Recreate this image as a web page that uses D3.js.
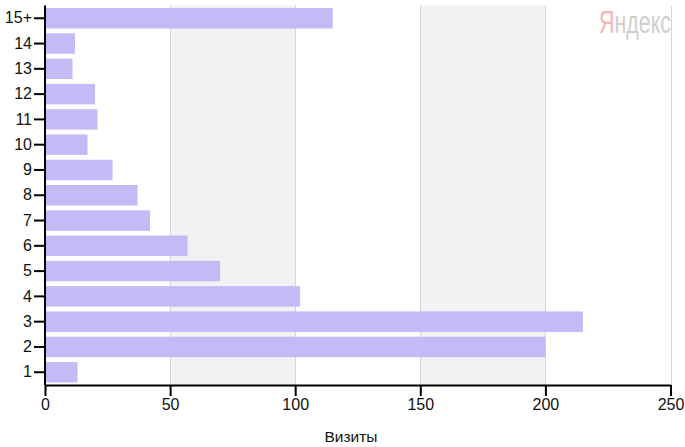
<!DOCTYPE html>
<html><head><meta charset="utf-8">
<script src="https://cdn.jsdelivr.net/npm/d3@7"></script>
<style>
html,body{margin:0;padding:0;background:#fff;}
svg{display:block;font-family:"Liberation Sans",Arial,sans-serif;}
</style></head>
<body>
<svg id="chart" width="685" height="447"></svg>
<script>
const categories = ["1","2","3","4","5","6","7","8","9","10","11","12","13","14","15+"];
const visits = [13,200,215,102,70,57,42,37,27,17,21,20,11,12,115];
const xTicks = [0,50,100,150,200,250];
const shadedBands = [[50,100],[150,200]];
const axisTitle = "Визиты";
const watermark = ["Я","ндекс"];

(function(){
const svg = d3.select("#chart");
const pLeft = 45, pRight = 670.5, pTop = 5.5, pBottom = 385;

const x = d3.scaleLinear().domain([0,250]).range([pLeft,pRight]);
const y = d3.scaleBand().domain(categories.slice().reverse()).range([pTop,pBottom]).paddingInner(0.19).paddingOuter(0.1);

svg.selectAll("rect.band").data(shadedBands).enter().append("rect")
  .attr("x", d=>x(d[0])).attr("width", d=>x(d[1])-x(d[0]))
  .attr("y", pTop).attr("height", pBottom-pTop).attr("fill","#f2f2f2");

svg.selectAll("line.grid").data(xTicks.slice(1)).enter().append("line")
  .attr("x1", d=>Math.round(x(d))+0.5).attr("x2", d=>Math.round(x(d))+0.5)
  .attr("y1", pTop).attr("y2", pBottom).attr("stroke","#d6d6d6").attr("stroke-width",1);

// watermark, horizontally condensed
const wmG = svg.append("g").attr("transform","translate(599,33)");
const wm = wmG.append("text").attr("font-size", 31);
wm.append("tspan").attr("fill","#f2b4b4").text(watermark[0]);
wm.append("tspan").attr("fill","#cfcfcf").text(watermark[1]);
const w = wm.node().getComputedTextLength();
wm.attr("transform", `scale(${72/w},1)`);

svg.selectAll("rect.bar").data(categories).enter().append("rect")
  .attr("x", x(0)).attr("y", d=>y(d))
  .attr("width", (d,i)=>x(visits[i])-x(0)).attr("height", y.bandwidth())
  .attr("fill","#c5b9f6");

const xAxis = svg.append("g").attr("transform",`translate(0,${pBottom})`)
  .call(d3.axisBottom(x).tickValues(xTicks).tickSize(11).tickPadding(3).tickSizeOuter(0));
const yAxis = svg.append("g").attr("transform",`translate(${pLeft},0)`)
  .call(d3.axisLeft(y).tickSize(11).tickPadding(2).tickSizeOuter(0));
[xAxis,yAxis].forEach(g=>{
  g.select(".domain").attr("stroke","#000").attr("stroke-width",2);
  g.selectAll(".tick line").attr("stroke","#000").attr("stroke-width",2);
  g.selectAll("text").attr("font-size",16).attr("fill","#111").attr("font-family","Liberation Sans, Arial, sans-serif");
});
yAxis.select(".domain").attr("d", `M0,${pTop}V${pBottom}`);

svg.append("text").attr("x",351).attr("y",442).attr("text-anchor","middle")
  .attr("font-size",15.5).attr("fill","#111").text(axisTitle);
})();
</script>
</body></html>
